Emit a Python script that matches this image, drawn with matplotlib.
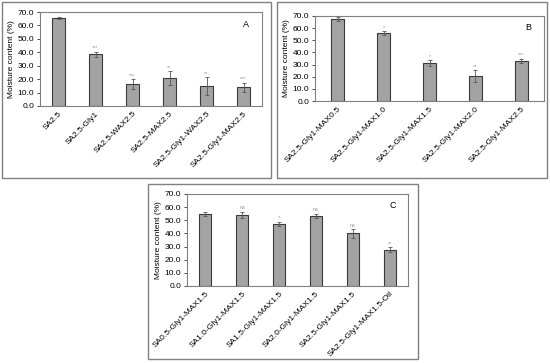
import matplotlib.pyplot as plt
from matplotlib.patches import Rectangle

plt.rcParams['font.family'] = ['Liberation Sans', 'DejaVu Sans']

W, H = 550, 363

# panel A
labels_a = ['SA2.5', 'SA2.5-Gly1', 'SA2.5-WAX2.5', 'SA2.5-MAX2.5',
            'SA2.5-Gly1-WAX2.5', 'SA2.5-Gly1-MAX2.5']
values_a = [65.5, 38.5, 16.5, 21.0, 15.0, 14.0]
errors_a = [1.0, 2.0, 3.5, 5.0, 6.5, 3.5]
marks_a = ['', '***', '***', '**', '**', '***']

# panel B
labels_b = ['SA2.5-Gly1-MAX0.5', 'SA2.5-Gly1-MAX1.0', 'SA2.5-Gly1-MAX1.5',
            'SA2.5-Gly1-MAX2.0', 'SA2.5-Gly1-MAX2.5']
values_b = [67.5, 56.0, 31.0, 20.5, 33.0]
errors_b = [2.0, 1.5, 2.5, 5.0, 2.0]
marks_b = ['', '*', '*', '**', '***']

# panel C
labels_c = ['SA0.5-Gly1-MAX1.5', 'SA1.0-Gly1-MAX1.5', 'SA1.5-Gly1-MAX1.5',
            'SA2.0-Gly1-MAX1.5', 'SA2.5-Gly1-MAX1.5', 'SA2.5-Gly1-MAX1.5-Oil']
values_c = [54.5, 54.0, 47.5, 53.5, 40.0, 27.5]
errors_c = [1.5, 2.5, 1.5, 1.5, 3.5, 2.0]
marks_c = ['', 'ns', '*', 'ns', 'ns', '**']

fig = plt.figure(figsize=(W / 100, H / 100), dpi=100)


def px_rect(x0, y0, x1, y1):
    # pixel box (top-left origin) -> figure fraction
    return [x0 / W, 1 - y1 / H, (x1 - x0) / W, (y1 - y0) / H]


def frame(x0, y0, x1, y1):
    r = Rectangle((x0 / W, 1 - y1 / H), (x1 - x0) / W, (y1 - y0) / H,
                  transform=fig.transFigure, fill=False,
                  edgecolor='#808080', linewidth=1.0)
    fig.patches.append(r)


def panel(box, labels, values, errors, marks, letter, width):
    ax = fig.add_axes(px_rect(*box))
    x = range(len(values))
    ax.bar(x, values, width=width, color='#a3a3a3', edgecolor='#3a3a3a',
           linewidth=0.8, yerr=errors,
           error_kw=dict(ecolor='#555555', elinewidth=0.6, capsize=1.2, capthick=0.6))
    for i, (v, e, m) in enumerate(zip(values, errors, marks)):
        if m:
            ax.text(i, v + e + 1.0, m, ha='center', va='bottom',
                    fontsize=4, color='#999999')
    ax.set_ylim(0, 70)
    ax.set_xlim(-0.5, len(values) - 0.5)
    ax.set_yticks(range(0, 71, 10))
    ax.set_yticklabels([f'{t:.1f}' for t in range(0, 71, 10)], fontsize=6)
    ax.set_xticks(list(x))
    ax.set_xticklabels(labels, rotation=45, ha='right', rotation_mode='anchor',
                       fontsize=6)
    ax.tick_params(axis='x', length=0, pad=3)
    ax.tick_params(axis='y', length=2, width=0.5, pad=2)
    ax.set_ylabel('Moisture content (%)', fontsize=6, labelpad=2)
    for s in ax.spines.values():
        s.set_color('#808080')
        s.set_linewidth(0.8)
    ax.text(0.93, 0.87, letter, transform=ax.transAxes, ha='center',
            va='center', fontsize=6.5)
    return ax


frame(2, 2, 271, 178)
frame(277, 2, 547, 178)
frame(148, 184, 418, 359)

panel((40, 12, 262, 106), labels_a, values_a, errors_a, marks_a, 'A', 0.33)
panel((315, 16, 544, 101), labels_b, values_b, errors_b, marks_b, 'B', 0.28)
panel((187, 194, 408, 286), labels_c, values_c, errors_c, marks_c, 'C', 0.33)

fig.savefig('out.png', dpi=100)
